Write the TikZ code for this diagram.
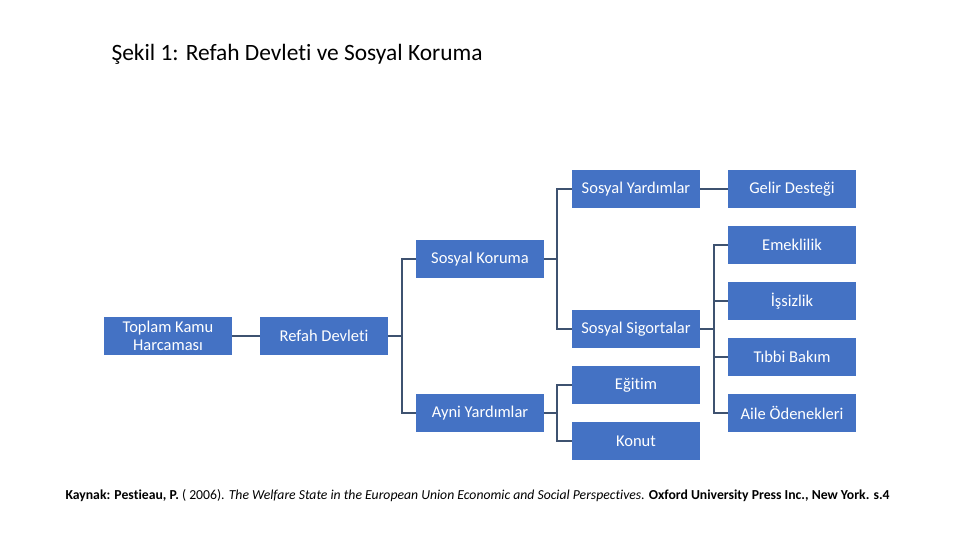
\documentclass[tikz,border=0pt]{standalone}
\usepackage{fontspec}
\setmainfont{Carlito}[Ligatures=CommonOff]
\usepackage{tikz}
\usetikzlibrary{positioning}
\definecolor{blokmavi}{RGB}{68,114,196}
\definecolor{hatrenk}{RGB}{62,82,112}

\begin{document}
\begin{tikzpicture}[x=1pt, y=-1pt,
    blok/.style={fill=blokmavi, text=white, minimum width=128pt, minimum height=38pt, inner sep=0pt, align=center, font=\fontsize{16.5}{18}\selectfont},
    bag/.style={draw=hatrenk, line width=1.6pt}]
    \useasboundingbox (0,0) rectangle (960,540);

    \node[anchor=base west, font=\fontsize{23.4}{28}\selectfont] (baslik) at (108,61) {Şekil 1: Refah Devleti ve Sosyal Koruma};

    % kutular
    \node[blok] (toplam) at (168,336) {Toplam Kamu\\Harcaması};
    \node[blok] (refah) at (324,336) {Refah Devleti};
    \node[blok] (koruma) at (480,259) {Sosyal Koruma};
    \node[blok] (ayni) at (480,413) {Ayni Yardımlar};
    \node[blok] (yardim) at (636,189) {Sosyal Yardımlar};
    \node[blok] (sigorta) at (636,329) {Sosyal Sigortalar};
    \node[blok] (egitim) at (636,385) {Eğitim};
    \node[blok] (konut) at (636,441) {Konut};
    \node[blok] (gelir) at (792,189) {Gelir Desteği};
    \node[blok] (emekli) at (792,245) {Emeklilik};
    \node[blok] (issiz) at (792,301) {İşsizlik};
    \node[blok] (tibbi) at (792,357) {Tıbbi Bakım};
    \node[blok] (aile) at (792,413) {Aile Ödenekleri};

    % baglantilar
    \draw[bag] (toplam) -- (refah);
    \foreach \n in {koruma, ayni} {
      \draw[bag] (refah.east) -- ++(14,0) |- (\n.west);
    }
    \foreach \n in {yardim, sigorta} {
      \draw[bag] (koruma.east) -- ++(13,0) |- (\n.west);
    }
    \foreach \n in {egitim, konut} {
      \draw[bag] (ayni.east) -- ++(13,0) |- (\n.west);
    }
    \draw[bag] (yardim) -- (gelir);
    \foreach \n in {emekli, issiz, tibbi, aile} {
      \draw[bag] (sigorta.east) -- ++(14,0) |- (\n.west);
    }

    \node[anchor=base west, font=\fontsize{13.7}{16}\selectfont] (kaynak) at (62,499) {\textbf{Kaynak: Pestieau, P.} ( 2006). \textit{The Welfare State in the European Union Economic and Social Perspectives.} \textbf{Oxford University Press Inc., New York. s.4}};
\end{tikzpicture}
\end{document}
